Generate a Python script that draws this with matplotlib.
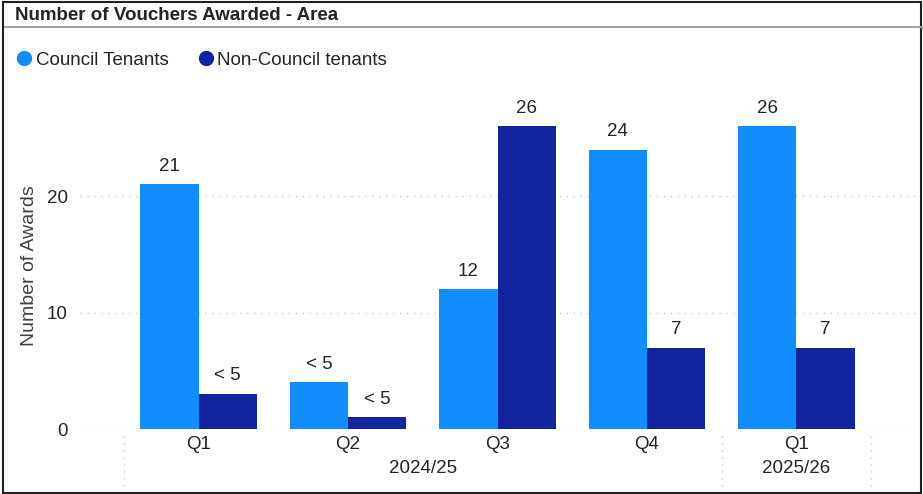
import matplotlib
matplotlib.use("Agg")
import matplotlib.pyplot as plt
import numpy as np
from matplotlib.lines import Line2D

plt.rcParams['font.family'] = ['Liberation Sans', 'DejaVu Sans']

# data
quarters = ['Q1', 'Q2', 'Q3', 'Q4', 'Q1']
years = ['2024/25', '2025/26']
year_groups = [[0, 1, 2, 3], [4]]
council = [21, 4, 12, 24, 26]
non_council = [3, 1, 26, 7, 7]
council_labels = ['21', '< 5', '12', '24', '26']
non_council_labels = ['< 5', '< 5', '26', '7', '7']
series_names = ['Council Tenants', 'Non-Council tenants']
colors = ['#118DFF', '#12239E']

txt = '#252423'
fs = 13.5

fig = plt.figure(figsize=(9.23, 4.94), dpi=100)
ax = fig.add_axes([80 / 923, 1 - 429 / 494, 838 / 923, 326 / 494])

x = np.arange(len(quarters))
w = 0.39
b1 = ax.bar(x - w / 2, council, w, color=colors[0], zorder=3)
b2 = ax.bar(x + w / 2, non_council, w, color=colors[1], zorder=3)

for bars, labs in ((b1, council_labels), (b2, non_council_labels)):
    for r, lab in zip(bars, labs):
        ax.annotate(lab, (r.get_x() + r.get_width() / 2, r.get_height()),
                    xytext=(0, 7), textcoords='offset points',
                    ha='center', va='bottom', fontsize=fs, color=txt)

ax.set_xlim(-0.794, 4.814)
ax.set_ylim(0, 28)
ax.set_yticks([0, 10, 20])
ax.grid(axis='y', linestyle=(0, (1, 4)), color='#C8C8C8', linewidth=1, zorder=0)
for s in ax.spines.values():
    s.set_visible(False)
ax.tick_params(axis='y', length=0, pad=9, labelsize=fs, labelcolor=txt)
ax.tick_params(axis='x', length=0, pad=5, labelsize=fs, labelcolor=txt)
ax.set_xticks(x)
ax.set_xticklabels(quarters)
ax.set_ylabel('Number of Awards', fontsize=14, color='#404040', labelpad=6)

# year labels and separators under the axis
trans = ax.get_xaxis_transform()
for yr, grp in zip(years, year_groups):
    ax.text(np.mean(grp), -0.12, yr, transform=trans, ha='center', va='center',
            fontsize=fs, color=txt)
for sx in [-0.5, 3.5, 4.5]:
    ax.plot([sx, sx], [-0.02, -0.19], transform=trans, clip_on=False,
            color='#C8C8C8', linestyle=(0, (1, 4)), linewidth=1)

# title and legend
fig.text(15 / 923, 1 - 15 / 494, 'Number of Vouchers Awarded - Area', fontsize=13.5,
         fontweight='bold', color=txt, ha='left', va='center')
fig.add_artist(Line2D([5 / 923, 1], [1 - 27 / 494, 1 - 27 / 494],
                      color='#A0A0A0', linewidth=1.5))
handles = [Line2D([], [], marker='o', linestyle='', markersize=10, color=c) for c in colors]
fig.legend(handles, series_names, loc='center left', bbox_to_anchor=(0 / 923, 1 - 60 / 494),
           ncol=2, frameon=False, fontsize=fs, handletextpad=0.0, columnspacing=1.4,
           labelcolor=txt, handlelength=1.2, borderaxespad=0.3)

# outer border
fig.add_artist(plt.Rectangle((0.003, 0.002), 0.995, 0.994, transform=fig.transFigure,
                             fill=False, edgecolor='#202020', linewidth=1.5))

plt.savefig('out.png', dpi=100)
